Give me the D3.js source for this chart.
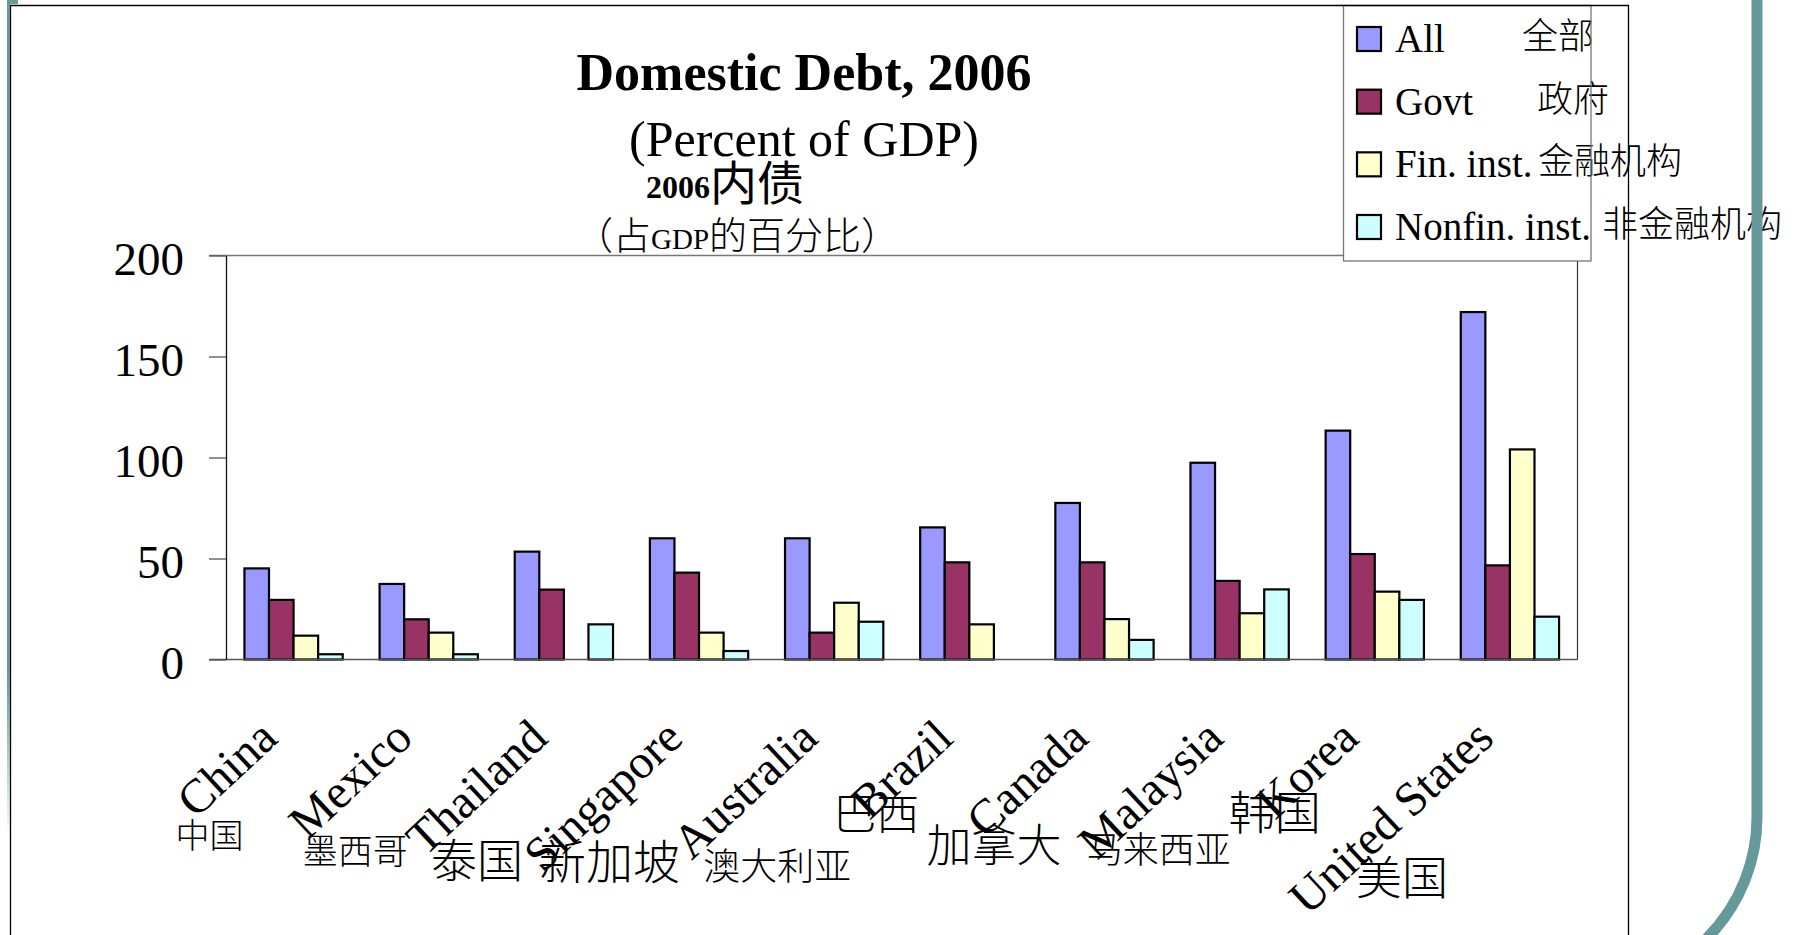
<!DOCTYPE html>
<html>
<head>
<meta charset="utf-8">
<script src="https://cdn.jsdelivr.net/npm/d3@7"></script>
<style>
  html, body { margin: 0; padding: 0; background: #ffffff; overflow: hidden; }
  svg { display: block; }
</style>
</head>
<body>
<svg id="chart" width="1802" height="935"></svg>
<script>
// ---- Data: domestic debt by holder, 2006 (percent of GDP) ----
const countries   = ["China", "Mexico", "Thailand", "Singapore", "Australia", "Brazil", "Canada", "Malaysia", "Korea", "United States"];
const countriesZh = ["中国", "墨西哥", "泰国", "新加坡", "澳大利亚", "巴西", "加拿大", "马来西亚", "韩国", "美国"];
const seriesNames   = ["All", "Govt", "Fin. inst.", "Nonfin. inst."];
const seriesNamesZh = ["全部", "政府", "金融机构", "非金融机构"];
const allDebt    = [45.1, 37.4, 53.4, 60.0, 60.0, 65.4, 77.5, 97.4, 113.3, 172.0];
const govtDebt   = [29.5, 19.9, 34.6, 43.0, 13.3, 48.1, 48.1, 38.9, 52.2, 46.6];
const finDebt    = [11.8, 13.3, 0, 13.3, 28.1, 17.4, 20.0, 22.9, 33.6, 104.0];
const nonfinDebt = [2.6, 2.6, 17.4, 4.2, 18.7, 0, 9.7, 34.7, 29.5, 21.2];
const yTicks = [0, 50, 100, 150, 200];

// ---- Styling / layout ----
const seriesValues = [allDebt, govtDebt, finDebt, nonfinDebt];
const seriesColors = ["#9999ff", "#993366", "#ffffcc", "#ccffff"];
const serif = "'Liberation Serif', 'Times New Roman', serif";
const cjk = "'Noto Sans CJK SC', 'Noto Sans CJK TC', sans-serif";

const plot = { left: 226, right: 1577.5, top: 255.5, bottom: 659.5 };

// Chinese country captions placed under the rotated English labels
// (dx from the category centre, vertical centre, font size)
const zhLabelLayout = [
  { dx: -118, cy: 833, size: 34 },
  { dx: -126, cy: 848, size: 35 },
  { dx: -133, cy: 857, size: 46 },
  { dx: -160, cy: 858, size: 47 },
  { dx: -131, cy: 864, size: 37 },
  { dx: -136, cy: 811, size: 43 },
  { dx: -178, cy: 842, size: 45 },
  { dx: -153, cy: 847, size: 36 },
  { dx: -146, cy: 809, size: 46 },
  { dx: -154, cy: 874, size: 46 }
];

const svg = d3.select("#chart");
svg.append("rect").attr("width", 1802).attr("height", 935).attr("fill", "#ffffff");

// ---- Scales ----
const x0 = d3.scaleBand().domain(countries).range([plot.left, plot.right]).padding(0);
const x1 = d3.scaleBand().domain(seriesNames).range([0, x0.bandwidth()])
  .paddingInner(0).paddingOuter(0.75);
const y = d3.scaleLinear().domain([0, 200]).range([plot.bottom, plot.top]);

// ---- Plot area frame (top and right edges) ----
svg.append("line")
  .attr("x1", 209).attr("x2", plot.right)
  .attr("y1", plot.top).attr("y2", plot.top)
  .attr("stroke", "#777").attr("stroke-width", 1.3);
svg.append("line")
  .attr("x1", plot.right).attr("x2", plot.right)
  .attr("y1", plot.top).attr("y2", plot.bottom)
  .attr("stroke", "#333").attr("stroke-width", 1.2);

// ---- Bars ----
const rows = countries.map((c, i) => ({
  country: c,
  values: seriesNames.map((s, k) => ({ series: s, value: seriesValues[k][i], color: seriesColors[k] }))
}));

const groups = svg.append("g").selectAll("g")
  .data(rows).join("g")
  .attr("transform", d => `translate(${x0(d.country)},0)`);

groups.selectAll("rect")
  .data(d => d.values.filter(v => v.value > 0))
  .join("rect")
  .attr("x", d => x1(d.series))
  .attr("y", d => y(d.value))
  .attr("width", x1.bandwidth())
  .attr("height", d => y(0) - y(d.value))
  .attr("fill", d => d.color)
  .attr("stroke", "#000")
  .attr("stroke-width", 2.2);

// ---- Category axis line ----
svg.append("line")
  .attr("x1", 209).attr("x2", plot.right)
  .attr("y1", y(0)).attr("y2", y(0))
  .attr("stroke", "#555").attr("stroke-width", 1.3);

// ---- Value axis ----
const yAxis = svg.append("g")
  .attr("transform", `translate(${plot.left},0)`)
  .call(d3.axisLeft(y).tickValues(yTicks).tickSize(17).tickPadding(25).tickSizeOuter(0));
yAxis.select(".domain").attr("stroke", "#111").attr("stroke-width", 1.3);
yAxis.selectAll(".tick line").attr("stroke", "#555").attr("stroke-width", 1.3);
yAxis.selectAll(".tick text")
  .attr("font-family", serif).attr("font-size", 47).attr("fill", "#000")
  .attr("dy", null).attr("y", 19);

// ---- Rotated English category labels ----
svg.append("g").selectAll("text")
  .data(countries).join("text")
  .attr("transform", d => `translate(${x0(d) + x0.bandwidth() / 2 - 14},741) rotate(-43)`)
  .attr("text-anchor", "end")
  .attr("font-family", serif).attr("font-size", 48).attr("fill", "#000")
  .text(d => d);

// ---- Chinese country captions ----
svg.append("g").selectAll("text")
  .data(countriesZh).join("text")
  .attr("x", (d, i) => x0(countries[i]) + x0.bandwidth() / 2 + zhLabelLayout[i].dx)
  .attr("y", (d, i) => zhLabelLayout[i].cy)
  .attr("dominant-baseline", "central")
  .attr("font-family", cjk).attr("font-weight", 300)
  .attr("font-size", (d, i) => zhLabelLayout[i].size).attr("fill", "#000")
  .text(d => d);

// ---- Titles ----
svg.append("text")
  .attr("x", 804).attr("y", 90).attr("text-anchor", "middle")
  .attr("font-family", serif).attr("font-weight", "bold").attr("font-size", 52)
  .text("Domestic Debt, 2006");
svg.append("text")
  .attr("x", 804).attr("y", 156).attr("text-anchor", "middle")
  .attr("font-family", serif).attr("font-size", 50)
  .text("(Percent of GDP)");

const zhTitle = svg.append("text").attr("x", 646).attr("y", 198);
zhTitle.append("tspan").attr("font-family", serif).attr("font-weight", "bold").attr("font-size", 32).text("2006");
zhTitle.append("tspan").attr("font-family", cjk).attr("font-size", 47).attr("dy", 2).text("内债");

const zhSub = svg.append("text").attr("x", 575).attr("y", 249);
zhSub.append("tspan").attr("font-family", cjk).attr("font-weight", 300).attr("font-size", 38).text("（占");
zhSub.append("tspan").attr("font-family", serif).attr("font-size", 29).text("GDP");
zhSub.append("tspan").attr("font-family", cjk).attr("font-weight", 300).attr("font-size", 38).text("的百分比）");

// ---- Legend ----
const legend = { x: 1343.5, y: 5.5, w: 247.5, h: 255.5 };
svg.append("rect")
  .attr("x", legend.x).attr("y", legend.y).attr("width", legend.w).attr("height", legend.h)
  .attr("fill", "#fff");

const legendRowY = d3.scalePoint().domain(seriesNames).range([27, 215]);
const zhLegendX = [1522, 1537, 1538, 1602];

const items = svg.append("g").selectAll("g").data(seriesNames).join("g");
items.append("rect")
  .attr("x", 1357).attr("y", d => legendRowY(d))
  .attr("width", 24).attr("height", 24)
  .attr("fill", (d, i) => seriesColors[i])
  .attr("stroke", "#000").attr("stroke-width", 2.2);
items.append("text")
  .attr("x", 1395).attr("y", d => legendRowY(d) + 25)
  .attr("font-family", serif).attr("font-size", 39).attr("fill", "#000")
  .text(d => d);
items.append("text")
  .attr("x", (d, i) => zhLegendX[i]).attr("y", d => legendRowY(d) + 6)
  .attr("dominant-baseline", "central")
  .attr("font-family", cjk).attr("font-weight", 300).attr("font-size", 36).attr("fill", "#000")
  .text((d, i) => seriesNamesZh[i]);

svg.append("rect")
  .attr("x", legend.x).attr("y", legend.y).attr("width", legend.w).attr("height", legend.h)
  .attr("fill", "none").attr("stroke", "#777").attr("stroke-width", 1.3);

// ---- Slide frame and decoration ----
svg.append("path")
  .attr("d", "M10.5,960 L10.5,5.5 L1628.5,5.5 L1628.5,960")
  .attr("fill", "none").attr("stroke", "#000").attr("stroke-width", 1.3);

const fade = svg.append("defs").append("linearGradient")
  .attr("id", "tealFade").attr("x1", 0).attr("x2", 0).attr("y1", 0).attr("y2", 1);
fade.append("stop").attr("offset", "0.8").attr("stop-color", "#669999").attr("stop-opacity", 1);
fade.append("stop").attr("offset", "1").attr("stop-color", "#669999").attr("stop-opacity", 0);
svg.append("rect").attr("x", 7).attr("y", 0).attr("width", 3).attr("height", 840).attr("fill", "url(#tealFade)");
svg.append("rect").attr("x", 7).attr("y", 0).attr("width", 11).attr("height", 4).attr("fill", "#669999");

svg.append("path")
  .attr("d", "M1757,-10 L1757,817 A172,172 0 0 1 1585,989")
  .attr("fill", "none").attr("stroke", "#669999").attr("stroke-width", 11);
</script>
</body>
</html>
